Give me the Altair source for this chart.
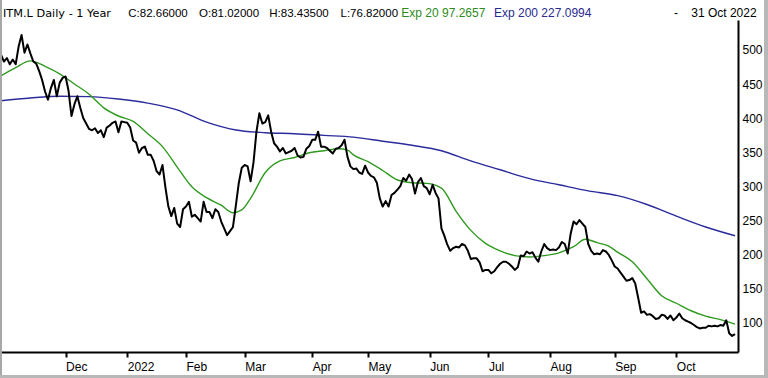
import altair as alt
import pandas as pd
from pandas.tseries.offsets import CustomBusinessDay

# ---------------- data ----------------
uk_holidays = ["2021-12-27", "2021-12-28", "2022-01-03", "2022-04-15", "2022-04-18",
               "2022-05-02", "2022-06-02", "2022-06-03", "2022-08-29", "2022-09-19"]
dates = pd.date_range("2021-11-01", "2022-10-31", freq=CustomBusinessDay(holidays=uk_holidays))

close = [
    493, 483, 488, 479, 486, 479, 505, 522, 496, 508, 495, 483, 480, 469, 456, 439, 427, 444, 456, 432,
    452, 459, 461, 440, 403, 420, 432, 415, 400, 392, 384, 382, 385, 378, 382, 372, 386, 389, 393, 395,
    379, 395, 394, 393, 386, 367, 364, 349, 356, 358, 346, 346, 337, 322, 317, 331, 298, 270, 256, 268,
    245, 240, 266, 270, 277, 255, 258, 253, 248, 277, 262, 262, 253, 266, 262, 248, 238, 228, 234, 240,
    272, 305, 327, 331, 329, 307, 335, 380, 407, 392, 394, 404, 380, 363, 358, 351, 356, 348, 350, 352,
    356, 345, 342, 343, 355, 359, 368, 368, 380, 358, 358, 356, 352, 348, 355, 356, 360, 368, 343, 329,
    325, 326, 320, 318, 330, 320, 315, 313, 305, 282, 270, 278, 270, 287, 290, 295, 300, 312, 308, 317,
    310, 289, 306, 312, 300, 297, 288, 302, 290, 282, 238, 227, 214, 205, 209, 211, 210, 215, 213, 205,
    193, 194, 194, 188, 175, 177, 177, 172, 175, 181, 186, 189, 189, 186, 182, 177, 181, 198, 197, 204,
    201, 203, 195, 189, 204, 215, 209, 206, 207, 206, 210, 218, 215, 201, 230, 248, 244, 250, 245, 240,
    215, 205, 200, 201, 200, 206, 204, 199, 191, 182, 179, 173, 167, 161, 162, 165, 157, 136, 114, 116,
    111, 112, 109, 105, 106, 111, 110, 105, 110, 103, 107, 113, 106, 103, 101, 99, 96, 93, 91, 92,
    92, 95, 94, 95, 94, 96, 95, 103, 84, 80, 82.66,
]

ema20_day = [0, 5, 10, 15, 20, 25, 30, 35, 40, 45, 50, 55, 60, 65, 70, 75, 79, 82, 85, 90, 95, 100,
             105, 110, 115, 118, 120, 125, 130, 135, 140, 145, 150, 155, 160, 165, 170, 175, 180,
             185, 190, 195, 199, 203, 207, 210, 215, 220, 225, 230, 235, 240, 245, 250]
ema20_val = [462, 474, 484, 476, 465, 450, 435, 415, 403, 395, 377, 358, 328, 299, 283, 272, 261,
             265, 282, 320, 337, 342, 349, 352, 355, 353, 346, 336, 323, 309, 305, 304, 297, 263,
             235, 216, 205, 198, 196, 198, 202, 211, 222, 217, 212, 203, 189, 164, 139, 128, 117,
             109, 104, 97.27]

ema200_day = [0, 10, 20, 30, 40, 50, 60, 70, 80, 90, 100, 110, 120, 130, 140, 150, 160, 170, 180,
              190, 200, 210, 220, 230, 240, 250]
ema200_val = [425.5, 429.5, 432, 431.5, 428, 422, 412, 394, 382.5, 378.5, 377, 374.5, 372, 366,
              360, 352, 337, 324, 311, 302, 293, 286, 273, 256, 240, 227.1]

tick_labels = ["Dec", "2022", "Feb", "Mar", "Apr", "May", "Jun", "Jul", "Aug", "Sep", "Oct"]
y_ticks = [100, 150, 200, 250, 300, 350, 400, 450, 500]

header_left = "ITM.L Daily -  1 Year"
header_c = "C:82.66000"
header_o = "O:81.02000"
header_h = "H:83.43500"
header_l = "L:76.82000"
header_ema20 = "Exp 20 97.2657"
header_ema200 = "Exp 200 227.0994"
header_dash = "-"
header_date = "31 Oct 2022"

# ---------------- derived tables ----------------
n = len(close)
df = pd.DataFrame({"i": list(range(n)), "date": dates[:n], "close": close})
month_start_idx = [k for k in range(1, n) if dates[k].month != dates[k - 1].month]
tick_idx = month_start_idx[:len(tick_labels)]
df20 = pd.DataFrame({"i": ema20_day, "v": ema20_val})
df200 = pd.DataFrame({"i": ema200_day, "v": ema200_val})

FONT = "Liberation Sans"
label_expr = "[" + ",".join("'%s'" % s for s in tick_labels) + "][indexof([" + \
    ",".join(str(t) for t in tick_idx) + "], datum.value)]"

x_scale = alt.Scale(domain=[0, 251], nice=False, zero=False)
y_scale = alt.Scale(domain=[56.4, 544], nice=False, zero=False)

x_axis = alt.Axis(values=tick_idx, labelExpr=label_expr, title=None, grid=False,
                  domainColor="black", domainWidth=2, tickColor="black", tickWidth=2,
                  tickSize=5, labelAlign="left", labelBaseline="top", labelPadding=4,
                  labelFont=FONT, labelFontSize=12, labelColor="black",
                  labelFlush=False, labelOverlap=False)
y_axis = alt.Axis(orient="right", values=y_ticks, title=None, grid=False, ticks=False,
                  domainColor="black", domainWidth=2, labelAlign="left", labelPadding=4,
                  labelFont=FONT, labelFontSize=12, labelColor="black", labelOverlap=False)

x_enc = alt.X("i:Q", scale=x_scale, axis=x_axis)

ema200_line = alt.Chart(df200).mark_line(color="#2b2b9c", strokeWidth=1.4, interpolate="monotone").encode(
    x=x_enc, y=alt.Y("v:Q", scale=y_scale, axis=y_axis))
ema20_line = alt.Chart(df20).mark_line(color="#2f9a1f", strokeWidth=1.4, interpolate="monotone").encode(
    x=x_enc, y=alt.Y("v:Q", scale=y_scale, axis=y_axis))
close_line = alt.Chart(df).mark_line(color="black", strokeWidth=2, strokeJoin="round").encode(
    x=x_enc, y=alt.Y("close:Q", scale=y_scale, axis=y_axis))


def header(txt, x, color, align="left", font=FONT, size=11.5):
    return alt.Chart(pd.DataFrame({"t": [txt]})).mark_text(
        font=font, fontSize=size, color=color, align=align, baseline="alphabetic"
    ).encode(text="t:N", x=alt.value(x), y=alt.value(-3.5))


texts = [
    header(header_left, 2, "black", font="DejaVu Sans", size=11.3),
    header(header_c, 127.3, "black"),
    header(header_o, 198, "black"),
    header(header_h, 268.3, "black"),
    header(header_l, 339.5, "black"),
    header(header_ema20, 400.3, "#2e8b22", size=12),
    header(header_ema200, 493, "#2a2a90", size=12),
    header(header_dash, 673, "black", size=12),
    header(header_date, 755.6, "black", align="right", size=12),
]

frame_df = pd.DataFrame({"k": [0]})
left_border = alt.Chart(frame_df).mark_rule(color="#a8a8a8", strokeWidth=3).encode(
    x=alt.value(-0.5), y=alt.value(-20), y2=alt.value(358))
right_border = alt.Chart(frame_df).mark_rule(color="#b8b8b8", strokeWidth=4).encode(
    x=alt.value(765), y=alt.value(-20), y2=alt.value(358))
bottom_border = alt.Chart(frame_df).mark_rule(color="#b8b8b8", strokeWidth=3).encode(
    x=alt.value(-2), x2=alt.value(767), y=alt.value(356.5))

chart = alt.layer(ema200_line, ema20_line, close_line, *texts,
                  left_border, right_border, bottom_border).properties(
    width=737, height=332,
    autosize=alt.AutoSizeParams(type="none"),
    padding={"left": 1, "top": 20, "right": 30, "bottom": 26},
    background="white",
).configure_view(strokeWidth=0)

chart.save("out.html", embed_options={"renderer": "svg", "actions": False})
